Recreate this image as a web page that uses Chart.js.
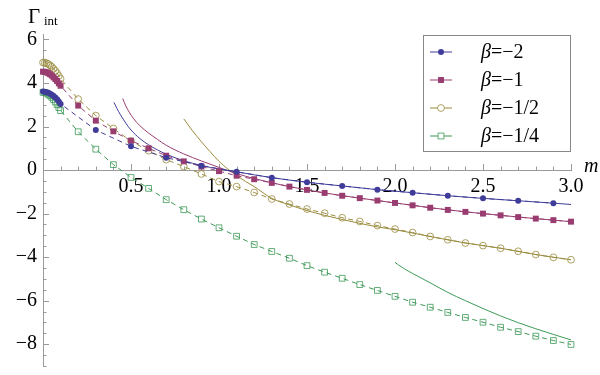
<!DOCTYPE html>
<html><head><meta charset="utf-8">
<script src="https://cdn.jsdelivr.net/npm/chart.js@4"></script>
<style>
html,body{margin:0;padding:0;background:#fff;}
#wrap{position:relative;width:600px;height:375px;overflow:hidden;}
#c{position:absolute;left:0;top:0;}
#ov{position:absolute;left:0;top:0;pointer-events:none;}
</style>
</head><body>
<div id="wrap"><canvas id="c" width="600" height="375"></canvas><svg id="ov" width="600" height="375" xmlns="http://www.w3.org/2000/svg"></svg></div>
<script>
// ---------- data ----------
const seriesLabels = ['β=−2', 'β=−1', 'β=−1/2', 'β=−1/4'];
const xTicks = [0.5, 1.0, 1.5, 2.0, 2.5, 3.0];
const yTicks = [-8, -6, -4, -2, 0, 2, 4, 6];

const mDense = [0, 0.01, 0.02, 0.03, 0.04, 0.05, 0.06, 0.07, 0.08, 0.09, 0.10];
const blueDense    = [3.61, 3.60, 3.58, 3.55, 3.51, 3.46, 3.40, 3.33, 3.25, 3.15, 3.04];
const magentaDense = [4.52, 4.51, 4.49, 4.45, 4.40, 4.34, 4.26, 4.18, 4.09, 3.98, 3.87];
const goldDense    = [4.94, 4.93, 4.91, 4.87, 4.81, 4.74, 4.65, 4.56, 4.45, 4.32, 4.19];
const greenDense   = [3.57, 3.56, 3.53, 3.48, 3.42, 3.34, 3.24, 3.13, 3.01, 2.87, 2.73];

const mOdd = [0.3, 0.5, 0.7, 0.9, 1.1, 1.3, 1.5, 1.7, 1.9, 2.1, 2.3, 2.5, 2.7, 2.9];
const blueOdd = [1.84, 1.09, 0.57, 0.20, -0.08, -0.35, -0.56, -0.73, -0.90, -1.04, -1.18, -1.30, -1.41, -1.52];

const mTenths = [0.2, 0.3, 0.4, 0.5, 0.6, 0.7, 0.8, 0.9, 1.0, 1.1, 1.2, 1.3, 1.4, 1.5, 1.6, 1.7, 1.8, 1.9, 2.0,
                 2.1, 2.2, 2.3, 2.4, 2.5, 2.6, 2.7, 2.8, 2.9, 3.0];
const magentaTenths = [2.96, 2.27, 1.78, 1.35, 1.00, 0.66, 0.40, 0.16, -0.05, -0.26, -0.42, -0.59, -0.76, -0.91, -1.05,
                       -1.18, -1.29, -1.40, -1.51, -1.62, -1.73, -1.83, -1.92, -2.00, -2.08, -2.16, -2.23, -2.30, -2.37];
const goldTenths = [3.26, 2.50, 1.91, 1.33, 0.89, 0.48, 0.16, -0.18, -0.53, -0.76, -1.03, -1.33, -1.56, -1.79, -1.98,
                    -2.19, -2.36, -2.55, -2.71, -2.87, -3.05, -3.20, -3.35, -3.47, -3.59, -3.73, -3.88, -4.01, -4.12];
const greenTenths = [1.76, 0.96, 0.25, -0.34, -0.84, -1.36, -1.82, -2.25, -2.65, -3.04, -3.42, -3.74, -4.05, -4.39, -4.69,
                     -4.97, -5.26, -5.53, -5.80, -6.07, -6.30, -6.54, -6.77, -6.99, -7.22, -7.42, -7.63, -7.83, -8.01];

// large-m approximations (solid curves)
const mBlueAsym = [0.403, 0.42, 0.44, 0.47, 0.5, 0.55, 0.6, 0.7, 0.8, 0.9, 1.0, 1.1, 1.3, 1.5, 1.7, 1.9, 2.1, 2.3, 2.5, 2.7, 2.9, 3.0];
const blueAsym  = [3.11, 2.83, 2.54, 2.16, 1.84, 1.45, 1.16, 0.73, 0.43, 0.21, 0.05, -0.08, -0.35, -0.56, -0.73, -0.90, -1.04, -1.18, -1.30, -1.41, -1.52, -1.58];
const mMagentaAsym = [0.453, 0.47, 0.49, 0.513, 0.55, 0.6, 0.65, 0.7, 0.8, 0.9, 1.0, 1.1, 1.2, 1.3, 1.4, 1.6, 1.8, 2.0, 2.2, 2.4, 2.6, 2.8, 3.0];
const magentaAsym  = [3.29, 2.95, 2.66, 2.38, 2.04, 1.70, 1.41, 1.14, 0.74, 0.42, 0.12, -0.16, -0.39, -0.58, -0.76, -1.05, -1.29, -1.51, -1.73, -1.92, -2.08, -2.23, -2.37];
const mGoldAsym = [0.8, 0.85, 0.9, 0.95, 1.0, 1.05, 1.1, 1.15, 1.2, 1.3, 1.4, 1.5, 1.6, 1.7, 1.8, 1.9, 2.0, 2.2, 2.4, 2.6, 2.8, 3.0];
const goldAsym  = [2.35, 1.80, 1.30, 0.84, 0.40, 0.05, -0.25, -0.52, -0.76, -1.30, -1.60, -1.86, -2.08, -2.27, -2.45, -2.61, -2.74, -3.05, -3.35, -3.59, -3.88, -4.12];
const mGreenAsym = [2.0, 2.02, 2.05, 2.1, 2.2, 2.3, 2.4, 2.5, 2.6, 2.7, 2.8, 2.9, 3.0];
const greenAsym  = [-4.24, -4.36, -4.52, -4.75, -5.18, -5.62, -6.00, -6.36, -6.70, -7.01, -7.29, -7.55, -7.80];

// ---------- styling ----------
const colors = ['#3F3D99', '#993D71', '#998B3D', '#3D9956'];
const AXIS = '#9a9a9a';
const SERIF = '"Liberation Serif", "DejaVu Serif", serif';

const zip = (xs, ys) => xs.map((x, i) => ({x: x, y: ys[i]}));

const markers = [
  {style: 'circle', radius: 3,   fill: colors[0], border: colors[0], bw: 0},
  {style: 'rect',   radius: 4.2, fill: colors[1], border: colors[1], bw: 0},
  {style: 'circle', radius: 3.4, fill: 'rgba(0,0,0,0)', border: 'rgba(153,139,61,0.8)', bw: 1},
  {style: 'rect',   radius: 4.1, fill: 'rgba(0,0,0,0)', border: 'rgba(61,153,86,0.8)', bw: 1}
];

const dataSets = [
  zip(mDense.concat(mOdd), blueDense.concat(blueOdd)),
  zip(mDense.concat(mTenths), magentaDense.concat(magentaTenths)),
  zip(mDense.concat(mTenths), goldDense.concat(goldTenths)),
  zip(mDense.concat(mTenths), greenDense.concat(greenTenths))
];
const asymSets = [
  zip(mBlueAsym, blueAsym),
  zip(mMagentaAsym, magentaAsym),
  zip(mGoldAsym, goldAsym),
  zip(mGreenAsym, greenAsym)
];

const datasets = [];
asymSets.forEach((d, i) => datasets.push({
  label: seriesLabels[i] + ' (large m)', data: d, borderColor: colors[i], borderWidth: 1,
  pointRadius: 0, cubicInterpolationMode: 'monotone', fill: false, clip: false, order: 2
}));
dataSets.forEach((d, i) => datasets.push({
  label: seriesLabels[i], data: d, borderColor: colors[i], borderWidth: 1, borderDash: [5, 4],
  pointStyle: markers[i].style, pointRadius: markers[i].radius, pointBackgroundColor: markers[i].fill,
  pointBorderColor: markers[i].border, pointBorderWidth: markers[i].bw, tension: 0, fill: false, clip: false, order: 1
}));

const fmt = v => (v < 0 ? '\u2212' + Math.abs(v) : String(v));
const zeroPad = s => { s.paddingLeft = 0; s.paddingRight = 0; s.paddingTop = 0; s.paddingBottom = 0; };

const tickPlugin = {
  id: 'mmaTicks',
  beforeDatasetsDraw(chart) {
    const ctx = chart.ctx, xs = chart.scales.x, ys = chart.scales.y;
    const y0 = ys.getPixelForValue(0), x0 = xs.getPixelForValue(0);
    ctx.save();
    ctx.strokeStyle = AXIS; ctx.lineWidth = 1;
    ctx.beginPath();
    for (let k = 1; k <= 30; k++) {
      const px = Math.round(xs.getPixelForValue(k / 10)) + 0.5;
      const len = (k % 5 === 0) ? 6 : 3.5;
      ctx.moveTo(px, y0); ctx.lineTo(px, y0 - len);
    }
    for (let k = -18; k <= 12; k++) {
      if (k === 0) continue;
      const py = Math.round(ys.getPixelForValue(k / 2)) + 0.5;
      const len = (k % 4 === 0) ? 6 : 3.5;
      ctx.moveTo(x0, py); ctx.lineTo(x0 + len, py);
    }
    ctx.stroke();
    ctx.restore();
  }
};

const chart = new Chart(document.getElementById('c'), {
  type: 'line',
  data: {datasets: datasets},
  plugins: [tickPlugin],
  options: {
    responsive: false, animation: false, events: [],
    layout: {padding: {left: 0, top: 34, right: 29, bottom: 9}},
    plugins: {legend: {display: false}, tooltip: {enabled: false}},
    scales: {
      x: {
        type: 'linear', min: 0, max: 3, position: {y: 0},
        grid: {display: false, drawTicks: false},
        border: {display: true, color: AXIS, width: 1},
        afterBuildTicks: s => { s.ticks = xTicks.map(v => ({value: v})); },
        afterFit: zeroPad,
        ticks: {autoSkip: false, maxRotation: 0, padding: 5, color: '#000',
                font: {family: SERIF, size: 20}, callback: v => Number(v).toFixed(1)}
      },
      y: {
        type: 'linear', min: -9, max: 6.25, position: 'left',
        grid: {display: false, drawTicks: false},
        border: {display: true, color: AXIS, width: 1},
        afterBuildTicks: s => { s.ticks = yTicks.map(v => ({value: v})); },
        afterFit: s => { s.width = 43; zeroPad(s); },
        ticks: {autoSkip: false, padding: 6, color: '#000',
                font: {family: SERIF, size: 20}, callback: v => fmt(v)}
      }
    }
  }
});

// ---------- overlay: axis titles and framed legend ----------
const NS = 'http://www.w3.org/2000/svg';
const svg = document.getElementById('ov');
function el(tag, attrs, text) {
  const e = document.createElementNS(NS, tag);
  for (const k in attrs) e.setAttribute(k, attrs[k]);
  if (text !== undefined) e.textContent = text;
  svg.appendChild(e);
  return e;
}
el('text', {x: 28, y: 23, 'font-family': SERIF, 'font-size': 21, fill: '#000'}, 'Γ');
el('text', {x: 44, y: 25, 'font-family': SERIF, 'font-size': 13, fill: '#000'}, 'int');
el('text', {x: 584, y: 172, 'font-family': SERIF, 'font-size': 20, 'font-style': 'italic', fill: '#000'}, 'm');

el('rect', {x: 423.5, y: 35.5, width: 147, height: 116, fill: '#fff', stroke: '#888', 'stroke-width': 1});
seriesLabels.forEach((lab, i) => {
  const cy = 52 + i * 28;
  el('line', {x1: 430, y1: cy, x2: 452, y2: cy, stroke: colors[i], 'stroke-width': 1});
  const mk = markers[i];
  if (mk.style === 'circle') {
    el('circle', {cx: 441, cy: cy, r: mk.radius, fill: mk.bw ? '#fff' : mk.fill, stroke: mk.border, 'stroke-width': mk.bw || 0});
  } else {
    const s = mk.radius * Math.SQRT1_2;
    el('rect', {x: 441 - s, y: cy - s, width: 2 * s, height: 2 * s, fill: mk.bw ? '#fff' : mk.fill, stroke: mk.border, 'stroke-width': mk.bw || 0});
  }
  const t = el('text', {x: 481, y: cy + 6, 'font-family': SERIF, 'font-size': 20, fill: '#000'});
  const b = document.createElementNS(NS, 'tspan');
  b.setAttribute('font-style', 'italic'); b.textContent = lab.charAt(0);
  t.appendChild(b);
  t.appendChild(document.createTextNode(lab.slice(1)));
});
</script>
</body></html>
